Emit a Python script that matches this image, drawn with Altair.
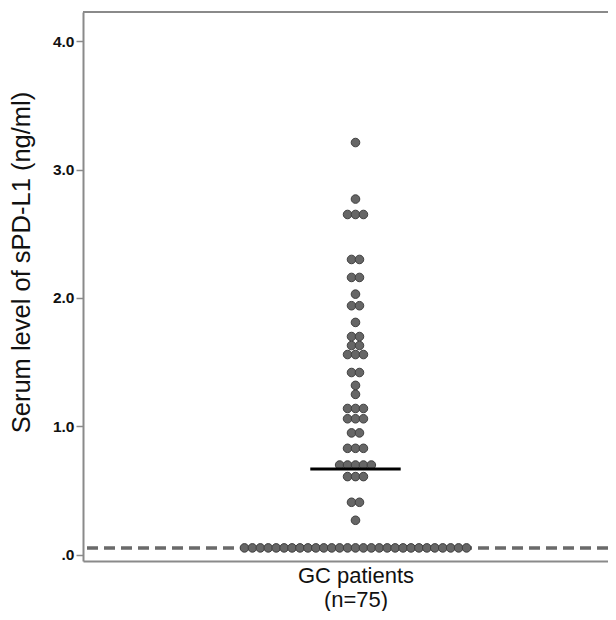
import altair as alt
import pandas as pd

# dot rows (binned values, ng/ml) and number of patients in each row
row_values = [3.21, 2.77, 2.65, 2.30, 2.16, 2.03, 1.94, 1.81, 1.70, 1.63, 1.56,
              1.42, 1.32, 1.25, 1.14, 1.06, 0.95, 0.83, 0.70, 0.61, 0.41, 0.27, 0.055]
row_counts = [1, 1, 3, 2, 2, 1, 2, 1, 2, 2, 3,
              2, 1, 1, 3, 3, 2, 3, 5, 3, 2, 1, 29]
median_value = [0.67]
cutoff_value = [0.055]
y_ticks = [0, 1, 2, 3, 4]
group_label = ["GC patients", "(n=75)"]
y_title = "Serum level of sPD-L1 (ng/ml)"

rows = []
for v, k in zip(row_values, row_counts):
    for i in range(k):
        rows.append({"value": v, "slot": i - (k - 1) / 2})
dots = pd.DataFrame(rows)

FONT = "Liberation Sans"
W, H = 525, 549
xscale = alt.Scale(domain=[-34.36, 31.84], nice=False, zero=False)
yscale = alt.Scale(domain=[-0.047, 4.226], nice=False, zero=False)

base_x = alt.X("slot:Q", scale=xscale,
               axis=alt.Axis(title=group_label, ticks=False, labels=False, grid=False,
                             domainColor="#8a8a8a", domainWidth=2,
                             titleFont=FONT, titleFontSize=22, titleFontWeight="normal",
                             titleColor="#111111", titleX=272.5, titleY=4,
                             titleBaseline="top", titleLineHeight=24))
base_y = alt.Y("value:Q", scale=yscale,
               axis=alt.Axis(title=y_title, values=y_ticks, grid=False,
                             labelExpr="datum.value == 0 ? '.0' : format(datum.value, '.1f')",
                             labelFont=FONT, labelFontSize=15.5, labelFontWeight="bold",
                             labelColor="#111111", labelPadding=2,
                             tickColor="#8a8a8a", tickSize=7, tickWidth=1.5,
                             domainColor="#8a8a8a", domainWidth=2,
                             titleFont=FONT, titleFontSize=25.5, titleFontWeight="normal",
                             titleColor="#111111", titleX=-62, titleY=250,
                             titleBaseline="middle", titleAngle=270))

cutoff = alt.Chart(pd.DataFrame({"value": cutoff_value})).mark_rule(
    color="#6a6a6a", strokeWidth=3.5, strokeDash=[11, 6]
).encode(y=alt.Y("value:Q", scale=yscale))

points = alt.Chart(dots).mark_point(
    filled=True, size=74, fill="#666666", stroke="#404040", strokeWidth=1, opacity=1
).encode(x=base_x, y=base_y)

median = alt.Chart(pd.DataFrame({"value": median_value})).mark_rule(
    color="#000000", strokeWidth=3
).encode(y=alt.Y("value:Q", scale=yscale), x=alt.datum(-5.7), x2=alt.datum(5.7))

top_border = alt.Chart(pd.DataFrame({"value": median_value})).mark_rule(
    color="#8a8a8a", strokeWidth=2
).encode(y=alt.value(0))

chart = alt.layer(cutoff, points, median, top_border).properties(
    width=W, height=H,
    autosize=alt.AutoSizeParams(type="none"),
    padding={"left": 75, "top": 4, "right": 0, "bottom": 50},
    background="white",
).configure_view(stroke=None)

chart.save("out.html", embed_options={"renderer": "svg", "actions": False})
